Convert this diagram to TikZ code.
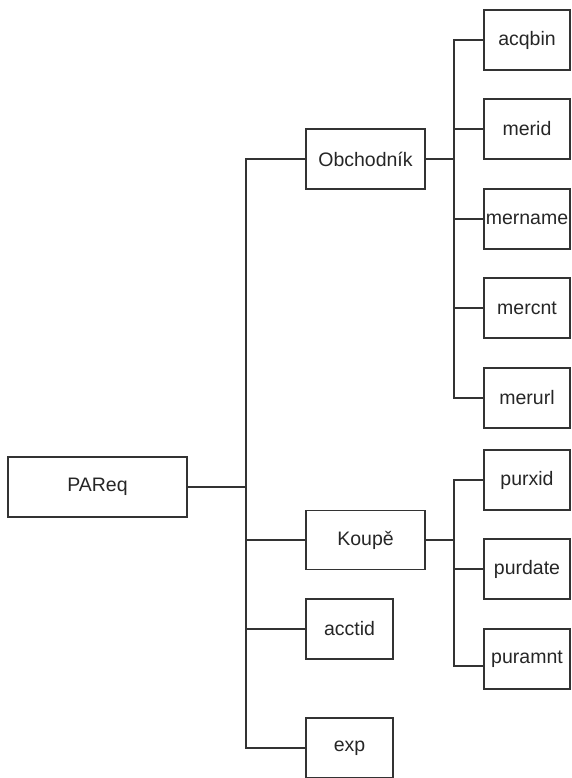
\documentclass[tikz,border=0pt]{standalone}
\usepackage{fontspec}
\setmainfont{Liberation Sans}
\begin{document}
\begin{tikzpicture}[x=1pt,y=-1pt,
  box/.style={draw=black!80, line width=1.3pt, rectangle, inner sep=0pt,
    minimum height=60pt, text=black!85, font=\fontsize{19.5}{23}\selectfont},
  leaf/.style={box, minimum width=86pt},
  midbox/.style={box, minimum width=119pt},
  smallbox/.style={box, minimum width=87pt},
  link/.style={draw=black!80, line width=1.3pt}]
\useasboundingbox (0,0) rectangle (571,778);

% root
\node[box, minimum width=179pt] (pareq) at (97.5,487) {PAReq};

% second level
\node[midbox] (obch) at (365.5,159) {Obchodník};
\node[midbox, minimum height=59pt] (koupe) at (365.5,540) {Koupě};
\node[smallbox] (acctid) at (349.5,629) {acctid};
\node[smallbox] (exp) at (349.5,748) {exp};

% merchant fields
\node[leaf] (acqbin) at (527,40) {acqbin};
\node[leaf] (merid) at (527,129) {merid};
\node[leaf] (mername) at (527,219) {mername};
\node[leaf] (mercnt) at (527,308) {mercnt};
\node[leaf] (merurl) at (527,398) {merurl};

% purchase fields
\node[leaf] (purxid) at (527,480) {purxid};
\node[leaf] (purdate) at (527,569) {purdate};
\node[leaf] (puramnt) at (527,659) {puramnt};

% junctions
\coordinate (j0) at (246,487);
\coordinate (j1) at (454,159);
\coordinate (j2) at (454,540);

% root branches
\draw[link] (pareq.east) -- (j0);
\draw[link] (j0) |- (obch.west);
\draw[link] (j0) |- (koupe.west);
\draw[link] (j0) |- (acctid.west);
\draw[link] (j0) |- (exp.west);

% merchant branches
\draw[link] (obch.east) -- (j1);
\foreach \n in {acqbin,merid,mername,mercnt,merurl}
  \draw[link] (j1) |- (\n.west);

% purchase branches
\draw[link] (koupe.east) -- (j2);
\draw[link] (j2) |- (purxid.west);
\draw[link] (j2) |- (purdate.west);
\draw[link] (j2) |- ([yshift=-7pt]puramnt.west);
\end{tikzpicture}
\end{document}
